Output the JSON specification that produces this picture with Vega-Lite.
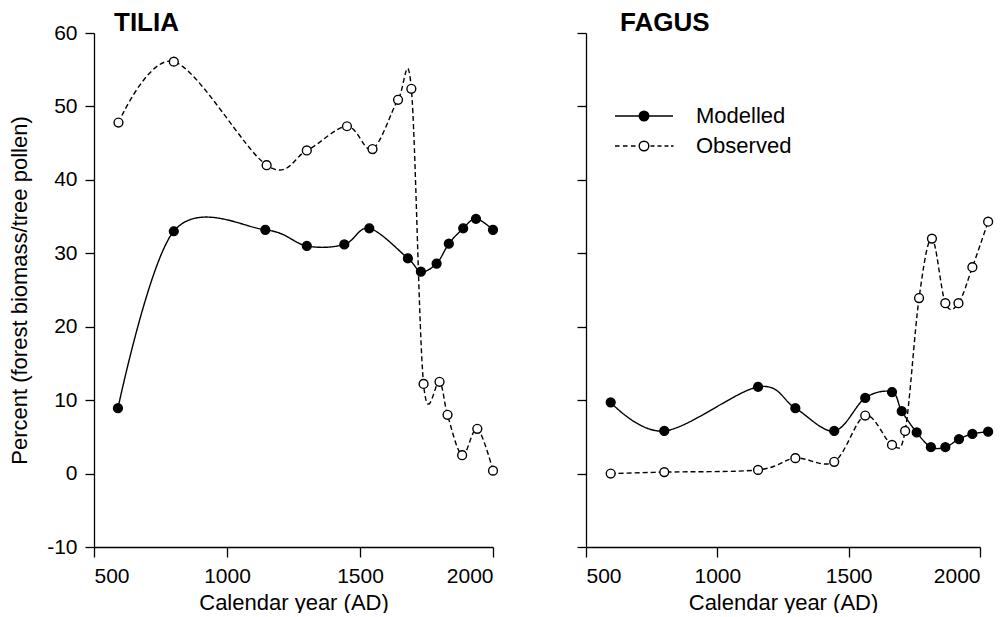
{
  "$schema": "https://vega.github.io/schema/vega-lite/v6.json",
  "background": "white",
  "padding": {"left": 8, "top": 10, "right": 0, "bottom": 0},
  "spacing": 93,
  "bounds": "flush",
  "resolve": {"scale": {"shape": "independent"}, "legend": {"shape": "independent"}},
  "config": {
    "font": "Liberation Sans",
    "view": {"stroke": null},
    "axis": {
      "grid": false,
      "domainColor": "black",
      "domainWidth": 1.3,
      "tickColor": "black",
      "tickWidth": 1.3,
      "labelColor": "black",
      "labelFontSize": 21,
      "labelFont": "Liberation Sans",
      "titleFont": "Liberation Sans",
      "titleColor": "black",
      "titleFontSize": 22,
      "titleFontWeight": "normal"
    }
  },
  "datasets": {
    "tilia": [
      {"series": "Modelled", "year": 590, "value": 8.9},
      {"series": "Modelled", "year": 800, "value": 33.0},
      {"series": "Modelled", "year": 1144, "value": 33.2},
      {"series": "Modelled", "year": 1300, "value": 31.0},
      {"series": "Modelled", "year": 1441, "value": 31.2},
      {"series": "Modelled", "year": 1535, "value": 33.4},
      {"series": "Modelled", "year": 1680, "value": 29.3},
      {"series": "Modelled", "year": 1729, "value": 27.5},
      {"series": "Modelled", "year": 1788, "value": 28.6},
      {"series": "Modelled", "year": 1834, "value": 31.3},
      {"series": "Modelled", "year": 1888, "value": 33.4},
      {"series": "Modelled", "year": 1936, "value": 34.7},
      {"series": "Modelled", "year": 2000, "value": 33.2},
      {"series": "Observed", "year": 592, "value": 47.8},
      {"series": "Observed", "year": 800, "value": 56.1},
      {"series": "Observed", "year": 1149, "value": 42.0},
      {"series": "Observed", "year": 1300, "value": 44.0},
      {"series": "Observed", "year": 1451, "value": 47.3},
      {"series": "Observed", "year": 1547, "value": 44.2},
      {"series": "Observed", "year": 1643, "value": 50.9},
      {"series": "Observed", "year": 1693, "value": 52.4},
      {"series": "Observed", "year": 1739, "value": 12.2},
      {"series": "Observed", "year": 1799, "value": 12.5},
      {"series": "Observed", "year": 1829, "value": 8.0},
      {"series": "Observed", "year": 1884, "value": 2.5},
      {"series": "Observed", "year": 1941, "value": 6.1},
      {"series": "Observed", "year": 2000, "value": 0.4}
    ],
    "fagus": [
      {"series": "Modelled", "year": 594, "value": 9.7},
      {"series": "Modelled", "year": 798, "value": 5.8},
      {"series": "Modelled", "year": 1155, "value": 11.8},
      {"series": "Modelled", "year": 1297, "value": 8.9},
      {"series": "Modelled", "year": 1445, "value": 5.8},
      {"series": "Modelled", "year": 1563, "value": 10.3},
      {"series": "Modelled", "year": 1665, "value": 11.1},
      {"series": "Modelled", "year": 1702, "value": 8.5},
      {"series": "Modelled", "year": 1759, "value": 5.6},
      {"series": "Modelled", "year": 1813, "value": 3.6},
      {"series": "Modelled", "year": 1868, "value": 3.6},
      {"series": "Modelled", "year": 1920, "value": 4.7},
      {"series": "Modelled", "year": 1971, "value": 5.4},
      {"series": "Modelled", "year": 2031, "value": 5.7},
      {"series": "Observed", "year": 594, "value": 0.0},
      {"series": "Observed", "year": 798, "value": 0.2},
      {"series": "Observed", "year": 1155, "value": 0.5},
      {"series": "Observed", "year": 1297, "value": 2.1},
      {"series": "Observed", "year": 1445, "value": 1.6},
      {"series": "Observed", "year": 1563, "value": 7.9},
      {"series": "Observed", "year": 1665, "value": 3.9},
      {"series": "Observed", "year": 1715, "value": 5.8},
      {"series": "Observed", "year": 1768, "value": 23.9},
      {"series": "Observed", "year": 1817, "value": 32.0},
      {"series": "Observed", "year": 1868, "value": 23.2},
      {"series": "Observed", "year": 1918, "value": 23.2},
      {"series": "Observed", "year": 1971, "value": 28.1},
      {"series": "Observed", "year": 2031, "value": 34.3}
    ]
  },
  "hconcat": [
    {
      "width": 399,
      "height": 514,
      "data": {"name": "tilia"},
      "title": {"text": "TILIA", "anchor": "start", "frame": "group", "dx": 20, "dy": 35, "fontSize": 26, "fontWeight": "bold", "color": "black", "font": "Liberation Sans", "offset": 0, "baseline": "alphabetic"},
      "encoding": {
        "x": {"field": "year", "type": "quantitative", "scale": {"domain": [500, 2000], "nice": false, "zero": false},
              "axis": {"values": [500, 1000, 1500, 2000], "tickSize": 10, "labelPadding": 8, "title": "Calendar year (AD)", "titlePadding": 6, "format": "d"}},
        "y": {"field": "value", "type": "quantitative", "scale": {"domain": [-10, 60], "nice": false, "zero": false},
              "axis": {"values": [-10, 0, 10, 20, 30, 40, 50, 60], "tickSize": 9, "labelPadding": 8, "labelExpr": "toString(datum.value)", "title": "Percent (forest biomass/tree pollen)", "titlePadding": 15}},
        "detail": {"field": "series", "type": "nominal"}
      },
      "layer": [
        {"mark": {"type": "line", "interpolate": "cardinal", "tension": 0, "color": "black", "strokeWidth": 1.4, "clip": false},
         "encoding": {"strokeDash": {"condition": {"test": "datum.series == 'Observed'", "value": [5, 3]}, "value": [1, 0]}}},
        {"mark": {"type": "point", "filled": true, "size": 78, "stroke": "black", "strokeWidth": 1.4, "opacity": 1, "clip": false},
         "encoding": {"fill": {"condition": {"test": "datum.series == 'Observed'", "value": "white"}, "value": "black"}}}
      ]
    },
    {
      "width": 394,
      "height": 514,
      "data": {"name": "fagus"},
      "title": {"text": "FAGUS", "anchor": "start", "frame": "group", "dx": 34, "dy": 25, "fontSize": 26, "fontWeight": "bold", "color": "black", "font": "Liberation Sans", "offset": 0, "baseline": "alphabetic"},
      "encoding": {
        "x": {"field": "year", "type": "quantitative", "scale": {"domain": [500, 2000], "nice": false, "zero": false},
              "axis": {"values": [500, 1000, 1500, 2000], "tickSize": 10, "labelPadding": 8, "title": "Calendar year (AD)", "titlePadding": 6, "format": "d"}},
        "y": {"field": "value", "type": "quantitative", "scale": {"domain": [-10, 60], "nice": false, "zero": false},
              "axis": {"values": [-10, 0, 10, 20, 30, 40, 50, 60], "tickSize": 9, "labels": false, "title": null}}
      },
      "layer": [
        {"mark": {"type": "line", "interpolate": "cardinal", "tension": 0, "color": "black", "strokeWidth": 1.4, "clip": false},
         "encoding": {"detail": {"field": "series", "type": "nominal"}, "strokeDash": {"condition": {"test": "datum.series == 'Observed'", "value": [5, 3]}, "value": [1, 0]}}},
        {"mark": {"type": "point", "filled": true, "size": 78, "stroke": "black", "strokeWidth": 1.4, "opacity": 1, "clip": false},
         "encoding": {"fill": {"condition": {"test": "datum.series == 'Observed'", "value": "white"}, "value": "black"}}},
        {"transform": [{"filter": "false"}],
         "mark": {"type": "point", "filled": false, "stroke": "black", "strokeWidth": 1.4, "clip": false},
         "encoding": {"shape": {"field": "series", "type": "nominal",
           "scale": {"domain": ["Modelled", "Observed"],
                     "range": ["M-2.9,0H-0.48M0.48,0H2.9M0.48,0A0.48,0.48,0,1,1,-0.48,0A0.48,0.48,0,1,1,0.48,0M0.34,0A0.34,0.34,0,1,1,-0.34,0A0.34,0.34,0,1,1,0.34,0M0.2,0A0.2,0.2,0,1,1,-0.2,0A0.2,0.2,0,1,1,0.2,0M0.07,0A0.07,0.07,0,1,1,-0.07,0A0.07,0.07,0,1,1,0.07,0",
                               "M-2.9,0H-2.45M-2.1,0H-1.65M-1.3,0H-0.85M0.65,0H1.05M1.35,0H1.75M2.05,0H2.45M2.7,0H2.95M0.48,0A0.48,0.48,0,1,1,-0.48,0A0.48,0.48,0,1,1,0.48,0"]},
           "legend": {"title": null, "orient": "none", "legendX": 47, "legendY": 72, "symbolSize": 400, "symbolStrokeWidth": 1.4, "symbolStrokeColor": "black", "symbolFillColor": "white", "symbolOpacity": 1, "labelFontSize": 22, "labelFont": "Liberation Sans", "labelColor": "black", "labelOffset": 41, "rowPadding": 8, "padding": 0}}}}
      ]
    }
  ]
}
